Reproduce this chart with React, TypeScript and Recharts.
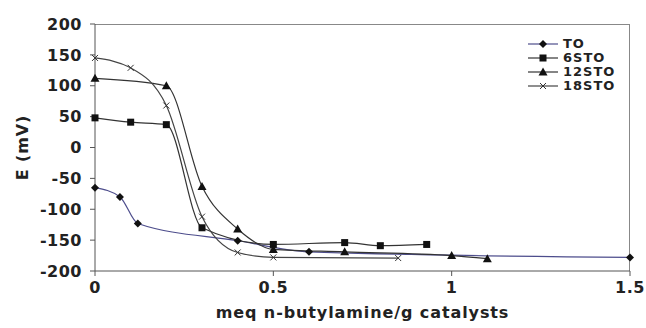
import React from 'react';
import { LineChart, Line, XAxis, YAxis } from 'recharts';

const TO_X = [0, 0.07, 0.12, 0.4, 0.6, 1.5];
const TO_Y = [-65, -80, -123, -151, -169, -178];
const STO6_X = [0, 0.1, 0.2, 0.3, 0.5, 0.7, 0.8, 0.93];
const STO6_Y = [48, 41, 37, -130, -157, -154, -159, -157];
const STO12_X = [0, 0.2, 0.3, 0.4, 0.5, 0.7, 1.0, 1.1];
const STO12_Y = [112, 100, -63, -132, -165, -169, -175, -180];
const STO18_X = [0, 0.1, 0.2, 0.3, 0.4, 0.5, 0.85];
const STO18_Y = [145, 129, 68, -112, -170, -178, -179];

const X_TICKS = [0, 0.5, 1, 1.5];
const Y_TICKS = [-200, -150, -100, -50, 0, 50, 100, 150, 200];

const toRows = (xs: number[], ys: number[]) => xs.map((x, i) => ({ x, y: ys[i] }));

const W = 646;
const H = 328;
const FONT = '"DejaVu Sans", Arial, sans-serif';
const AXIS = '#555';
const INK = '#111';
const MARGIN = { top: 24, right: 16, bottom: 7, left: 0 };
const Y_AXIS_W = 95;
const X_AXIS_H = 50;

const marker = (kind: string, cx: number, cy: number, key?: any) => {
  if (kind === 'diamond')
    return <path key={key} d={`M${cx},${cy - 4}L${cx + 4},${cy}L${cx},${cy + 4}L${cx - 4},${cy}Z`} fill={INK} />;
  if (kind === 'square')
    return <rect key={key} x={cx - 3.5} y={cy - 3.5} width={7} height={7} fill={INK} />;
  if (kind === 'triangle')
    return <path key={key} d={`M${cx},${cy - 4.5}L${cx + 4.5},${cy + 3.5}L${cx - 4.5},${cy + 3.5}Z`} fill={INK} />;
  return (
    <g key={key} stroke="#333" strokeWidth={1}>
      <line x1={cx - 3} y1={cy - 3} x2={cx + 3} y2={cy + 3} />
      <line x1={cx - 3} y1={cy + 3} x2={cx + 3} y2={cy - 3} />
    </g>
  );
};

const SERIES = [
  { name: 'TO', data: toRows(TO_X, TO_Y), color: '#4d4d8c', kind: 'diamond' },
  { name: '6STO', data: toRows(STO6_X, STO6_Y), color: '#333', kind: 'square' },
  { name: '12STO', data: toRows(STO12_X, STO12_Y), color: '#333', kind: 'triangle' },
  { name: '18STO', data: toRows(STO18_X, STO18_Y), color: '#444', kind: 'cross' },
];

const LegendBox = () => (
  <div
    style={{
      position: 'absolute',
      left: 527,
      top: 37,
      fontFamily: FONT,
      fontWeight: 'bold',
      fontSize: 13,
      lineHeight: '14px',
      letterSpacing: 1,
      color: '#222',
    }}
  >
    {SERIES.map((s) => (
      <div key={s.name} style={{ display: 'flex', alignItems: 'center', height: 14 }}>
        <svg width={34} height={10}>
          <line x1={1} y1={5} x2={31} y2={5} stroke={s.color} strokeWidth={1.2} />
          {marker(s.kind, 16, 5)}
        </svg>
        <span style={{ marginLeft: 2 }}>{s.name}</span>
      </div>
    ))}
  </div>
);

// grey frame along the top and right of the plot area (Excel-style plot border)
const PlotFrame = () => {
  const left = MARGIN.left + Y_AXIS_W;
  const top = MARGIN.top;
  return (
    <div
      style={{
        position: 'absolute',
        left,
        top,
        width: W - left - MARGIN.right,
        height: H - top - MARGIN.bottom - X_AXIS_H,
        boxSizing: 'border-box',
        borderTop: '1px solid #888',
        borderRight: '1px solid #888',
      }}
    />
  );
};

const tickStyle = { fontFamily: FONT, fontWeight: 'bold', fontSize: 16, letterSpacing: 0.5, fill: '#222' };
const labelStyle = { fontFamily: FONT, fontWeight: 'bold', fontSize: 16, letterSpacing: 0.9, fill: '#222' };

const XLabel = (p: any) => {
  const vb = p.viewBox;
  if (!vb) return null;
  return (
    <text x={vb.x + vb.width / 2} y={vb.y + 41} textAnchor="middle" dominantBaseline="central" style={labelStyle}>
      meq n-butylamine/g catalysts
    </text>
  );
};

const YLabel = (p: any) => {
  const vb = p.viewBox;
  if (!vb) return null;
  const cx = vb.x + 22;
  const cy = vb.y + vb.height / 2;
  return (
    <text
      x={cx}
      y={cy}
      transform={`rotate(-90 ${cx} ${cy})`}
      textAnchor="middle"
      dominantBaseline="central"
      style={labelStyle}
    >
      E (mV)
    </text>
  );
};

export default function App() {
  return (
    <div style={{ position: 'absolute', left: 0, top: 0, width: W, height: H, background: '#fff' }}>
      <PlotFrame />
      <LineChart width={W} height={H} margin={MARGIN}>
        <XAxis
          type="number"
          dataKey="x"
          domain={[0, 1.5]}
          ticks={X_TICKS}
          tick={tickStyle}
          tickSize={5}
          tickMargin={6}
          height={X_AXIS_H}
          stroke={AXIS}
          allowDuplicatedCategory={false}
          label={{ content: XLabel }}
        />
        <YAxis
          type="number"
          dataKey="y"
          domain={[-200, 200]}
          ticks={Y_TICKS}
          tick={tickStyle}
          tickSize={5}
          tickMargin={8}
          width={Y_AXIS_W}
          stroke={AXIS}
          label={{ content: YLabel }}
        />
        {SERIES.map((s) => (
          <Line
            key={s.name}
            name={s.name}
            data={s.data}
            dataKey="y"
            type="monotone"
            stroke={s.color}
            strokeWidth={1.2}
            dot={(p: any) => marker(s.kind, p.cx, p.cy, p.key ?? `${s.name}-${p.index}`)}
            activeDot={false}
            isAnimationActive={false}
          />
        ))}
      </LineChart>
      <LegendBox />
    </div>
  );
}
